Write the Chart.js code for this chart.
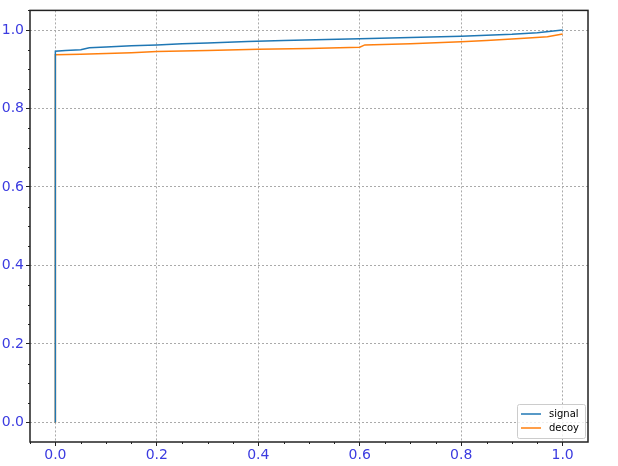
<!DOCTYPE html>
<html>
<head>
<meta charset="utf-8">
<script src="https://cdn.jsdelivr.net/npm/chart.js@4.4.1/dist/chart.umd.min.js"></script>
<style>
  html, body { margin: 0; padding: 0; background: #fff; }
  #wrap { width: 618px; height: 466px; }
</style>
</head>
<body>
<div id="wrap"><canvas id="chart" width="618" height="466"></canvas></div>
<script>
// Data
const signalX = [0, 0, 0.02, 0.05, 0.067, 0.1, 0.15, 0.2, 0.25, 0.3, 0.379, 0.45, 0.534, 0.6, 0.7, 0.8, 0.9, 0.95, 1.0];
const signalY = [0, 0.946, 0.948, 0.950, 0.955, 0.957, 0.960, 0.962, 0.965, 0.967, 0.971, 0.973, 0.976, 0.978, 0.981, 0.984, 0.989, 0.993, 1.0];
const decoyX = [0, 0, 0.05, 0.1, 0.15, 0.2, 0.3, 0.4, 0.5, 0.6, 0.61, 0.7, 0.8, 0.85, 0.9, 0.94, 0.97, 1.0];
const decoyY = [0, 0.937, 0.938, 0.940, 0.942, 0.945, 0.948, 0.951, 0.953, 0.956, 0.962, 0.965, 0.970, 0.973, 0.977, 0.980, 0.983, 0.990];
const xTicks = [0, 0.2, 0.4, 0.6, 0.8, 1.0];
const yTicks = [0, 0.2, 0.4, 0.6, 0.8, 1.0];
const seriesNames = ['signal', 'decoy'];
const seriesColors = ['#1f77b4', '#ff7f0e'];

const toPoints = (xs, ys) => xs.map((x, i) => ({ x: x, y: ys[i] }));

const tickFont = { family: 'DejaVu Sans', size: 14 };
const tickColor = '#3b3be0';

// frame, minor ticks and legend
const extras = {
  id: 'extras',
  afterDraw(chart) {
    const ctx = chart.ctx;
    const a = chart.chartArea;
    const xs = chart.scales.x, ys = chart.scales.y;
    ctx.save();
    ctx.strokeStyle = '#222';
    ctx.lineWidth = 1;
    // minor ticks
    ctx.beginPath();
    for (let i = -1; i <= 21; i++) {
      const v = i * 0.05;
      if (Math.abs(v * 5 - Math.round(v * 5)) < 1e-6) continue;
      const px = Math.round(xs.getPixelForValue(v)) + 0.5;
      if (px > a.left && px < a.right) { ctx.moveTo(px, a.bottom); ctx.lineTo(px, a.bottom + 2); }
      const py = Math.round(ys.getPixelForValue(v)) + 0.5;
      if (py > a.top && py < a.bottom) { ctx.moveTo(a.left, py); ctx.lineTo(a.left - 2, py); }
    }
    ctx.stroke();
    // frame
    ctx.lineWidth = 1.5;
    ctx.strokeStyle = '#222';
    ctx.strokeRect(a.left, a.top, a.right - a.left, a.bottom - a.top);
    // legend
    const bx = 517, by = 404, bw = 68, bh = 34;
    ctx.fillStyle = 'rgba(255,255,255,0.8)';
    ctx.strokeStyle = '#ccc';
    ctx.lineWidth = 1;
    ctx.beginPath();
    ctx.roundRect(bx + 0.5, by + 0.5, bw, bh, 2);
    ctx.fill();
    ctx.stroke();
    ctx.font = '10px "DejaVu Sans"';
    ctx.textBaseline = 'middle';
    seriesNames.forEach((name, i) => {
      const yy = by + 10 + i * 14;
      ctx.strokeStyle = seriesColors[i];
      ctx.lineWidth = 1.5;
      ctx.beginPath();
      ctx.moveTo(bx + 4, yy);
      ctx.lineTo(bx + 24, yy);
      ctx.stroke();
      ctx.fillStyle = '#000';
      ctx.fillText(name, bx + 32, yy);
    });
    ctx.restore();
  }
};

new Chart(document.getElementById('chart'), {
  type: 'scatter',
  data: {
    datasets: [
      {
        label: seriesNames[0],
        data: toPoints(signalX, signalY),
        showLine: true,
        borderColor: seriesColors[0],
        borderWidth: 1.5,
        pointRadius: 0,
        tension: 0
      },
      {
        label: seriesNames[1],
        data: toPoints(decoyX, decoyY),
        showLine: true,
        borderColor: seriesColors[1],
        borderWidth: 1.5,
        pointRadius: 0,
        tension: 0
      }
    ]
  },
  options: {
    responsive: false,
    animation: false,
    layout: { padding: { top: 7, right: 30, left: 0, bottom: 0 } },
    plugins: {
      legend: { display: false },
      tooltip: { enabled: false }
    },
    scales: {
      x: {
        type: 'linear',
        min: -0.05,
        max: 1.05,
        afterFit: s => { s.height = 24; },
        afterBuildTicks: s => { s.ticks = xTicks.map(v => ({ value: v })); },
        ticks: {
          font: tickFont,
          color: tickColor,
          padding: 1,
          maxRotation: 0,
          callback: v => v.toFixed(1)
        },
        grid: {
          color: '#aaa',
          tickColor: '#222',
          tickLength: 4,
          tickBorderDash: []
        },
        border: { display: false, dash: [2, 2] }
      },
      y: {
        type: 'linear',
        min: -0.05,
        max: 1.05,
        afterFit: s => { s.width = 30; },
        afterBuildTicks: s => { s.ticks = yTicks.map(v => ({ value: v })); },
        ticks: {
          font: tickFont,
          color: tickColor,
          padding: 2,
          callback: v => v.toFixed(1)
        },
        grid: {
          color: '#aaa',
          tickColor: '#222',
          tickLength: 4,
          tickBorderDash: []
        },
        border: { display: false, dash: [2, 2] }
      }
    }
  },
  plugins: [extras]
});
</script>
</body>
</html>
